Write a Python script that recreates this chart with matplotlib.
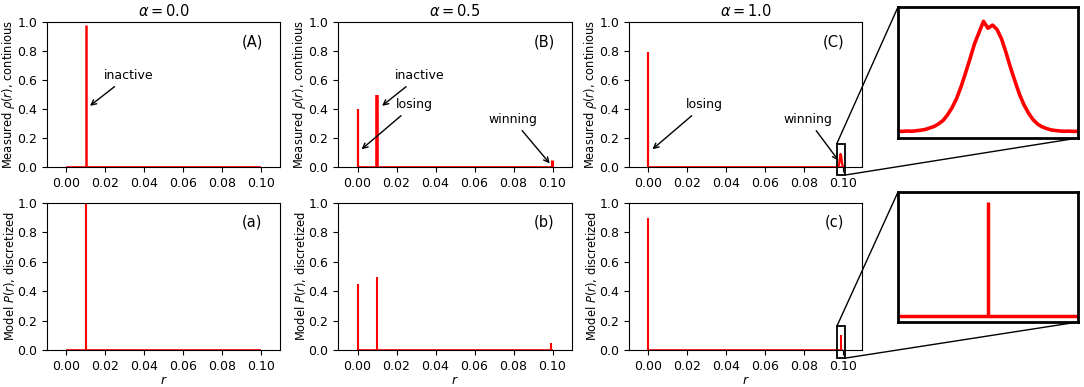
import numpy as np
import matplotlib
matplotlib.use('Agg')
import matplotlib.pyplot as plt
from matplotlib.patches import Rectangle, ConnectionPatch

# ── данные ────────────────────────────────────────────────────────────────
alphas = ['0.0', '0.5', '1.0']

# измеренные rho(r) (верхний ряд): положения пиков и высоты
meas_r = [[0.01], [0.0, 0.01, 0.0995], [0.0]]
meas_h = [[0.98], [0.40, 0.50, 0.045], [0.79]]
meas_lw = [[1.8], [1.6, 2.6, 2.2], [1.6]]

# модель P(r) (нижний ряд)
model_r = [[0.01], [0.0, 0.01, 0.099], [0.0, 0.099]]
model_h = [[1.00], [0.45, 0.50, 0.05], [0.90, 0.10]]

# пик "winning" при alpha = 1.0 в увеличении
zoom_r = [0.0970, 0.0971, 0.0972, 0.0973, 0.0974, 0.0975, 0.0976, 0.0977,
          0.0978, 0.0979, 0.0980, 0.0981, 0.0982, 0.0983, 0.0984, 0.0985,
          0.0986, 0.0987, 0.0988, 0.0989, 0.0990, 0.0991, 0.0992, 0.0993,
          0.0994, 0.0995, 0.0996, 0.0997, 0.0998, 0.0999, 0.1000, 0.1001,
          0.1002, 0.1003, 0.1004, 0.1005, 0.1006, 0.1007, 0.1008, 0.1009,
          0.1010]
zoom_rho = [0.0005, 0.0003, 0.0006, 0.0004, 0.0008, 0.0012, 0.0018, 0.0030,
            0.0042, 0.0063, 0.0090, 0.0135, 0.0192, 0.0265, 0.0360, 0.0470,
            0.0585, 0.0705, 0.0795, 0.0885, 0.0830, 0.0855, 0.0820, 0.0745,
            0.0635, 0.0515, 0.0405, 0.0300, 0.0215, 0.0150, 0.0098, 0.0062,
            0.0040, 0.0026, 0.0015, 0.0010, 0.0006, 0.0004, 0.0005, 0.0003,
            0.0004]

upper_tags = ['(A)', '(B)', '(C)']
lower_tags = ['(a)', '(b)', '(c)']

W, H = 1084, 387
fig = plt.figure(figsize=(W / 100, H / 100), dpi=100)


def px_axes(left, top, right, bottom):
    return fig.add_axes([left / W, 1 - bottom / H, (right - left) / W, (bottom - top) / H])


cols = [(47, 280), (338, 572), (629, 862)]
top_axes = [px_axes(l, 22, r, 167) for l, r in cols]
bot_axes = [px_axes(l, 203, r, 350) for l, r in cols]

for i, ax in enumerate(top_axes + bot_axes):
    ax.set_xlim(-0.01, 0.11)
    ax.set_ylim(0, 1)
    ax.set_xticks([0.0, 0.02, 0.04, 0.06, 0.08, 0.10])
    ax.set_xticklabels(['0.00', '0.02', '0.04', '0.06', '0.08', '0.10'])
    ax.set_yticks([0.0, 0.2, 0.4, 0.6, 0.8, 1.0])
    ax.tick_params(labelsize=9)
    ax.hlines(0, 0.0, 0.1, color='red', lw=1.2, zorder=2)

# ── верхний ряд ──────────────────────────────────────────────────────────
for i, ax in enumerate(top_axes):
    for r, h, lw in zip(meas_r[i], meas_h[i], meas_lw[i]):
        ax.vlines(r, 0, h, color='red', lw=lw)
    ax.set_title(r'$\alpha = %s$' % alphas[i], fontsize=10.5, pad=4)
    ax.set_ylabel(r'Measured $\rho(r)$, continious', fontsize=8.3, labelpad=0.5)
    ax.text(0.88, 0.86, upper_tags[i], transform=ax.transAxes,
            ha='center', va='center', fontsize=10.5)

top_axes[2].plot(zoom_r, zoom_rho, color='red', lw=1.6)

arrow = dict(arrowstyle='->', color='black', lw=1)
txt = dict(ha='center', va='center', fontsize=9, arrowprops=arrow)
top_axes[0].annotate('inactive', xy=(0.011, 0.41), xytext=(0.032, 0.63), **txt)
top_axes[1].annotate('inactive', xy=(0.0115, 0.41), xytext=(0.032, 0.63), **txt)
top_axes[1].annotate('losing', xy=(0.001, 0.11), xytext=(0.029, 0.43), **txt)
top_axes[1].annotate('winning', xy=(0.0995, 0.01), xytext=(0.0795, 0.33), **txt)
top_axes[2].annotate('losing', xy=(0.001, 0.11), xytext=(0.029, 0.43), **txt)
top_axes[2].annotate('winning', xy=(0.0987, 0.03), xytext=(0.082, 0.33), **txt)

# ── нижний ряд ───────────────────────────────────────────────────────────
for i, ax in enumerate(bot_axes):
    for r, h in zip(model_r[i], model_h[i]):
        ax.vlines(r, 0, h, color='red', lw=1.5)
    ax.set_xlabel('$r$', fontsize=9, labelpad=1)
    ax.set_ylabel(r'Model $P(r)$, discretized', fontsize=8.3, labelpad=0.5)
    ax.text(0.88, 0.87, lower_tags[i], transform=ax.transAxes,
            ha='center', va='center', fontsize=10.5)

# ── вставки с увеличением ────────────────────────────────────────────────
ins_top = px_axes(898, 7, 1078, 138)
ins_bot = px_axes(898, 192, 1078, 322)

ins_top.plot(zoom_r, zoom_rho, color='red', lw=2.6)
ins_top.set_ylim(-0.005, 0.1)

ins_bot.hlines(0, 0.097, 0.101, color='red', lw=2.5)
ins_bot.vlines(model_r[2][1], 0, model_h[2][1], color='red', lw=2.5)
ins_bot.set_ylim(-0.005, 0.109)

for ins in (ins_top, ins_bot):
    ins.set_xlim(0.097, 0.101)
    ins.set_xticks([])
    ins.set_yticks([])
    for s in ins.spines.values():
        s.set_linewidth(2)

rx0, rx1, ry0, ry1 = 0.097, 0.1015, -0.055, 0.16
for ax, ins in ((top_axes[2], ins_top), (bot_axes[2], ins_bot)):
    ax.add_patch(Rectangle((rx0, ry0), rx1 - rx0, ry1 - ry0, fill=False,
                           ec='black', lw=1.3, clip_on=False, zorder=5))
    for (xa, ya), (xb, yb) in (((rx0, ry1), (0, 1)), ((rx1, ry0), (1, 0))):
        con = ConnectionPatch(xyA=(xa, ya), coordsA=ax.transData,
                              xyB=(xb, yb), coordsB=ins.transAxes,
                              color='black', lw=1)
        fig.add_artist(con)

fig.savefig('out.png', dpi=100)
